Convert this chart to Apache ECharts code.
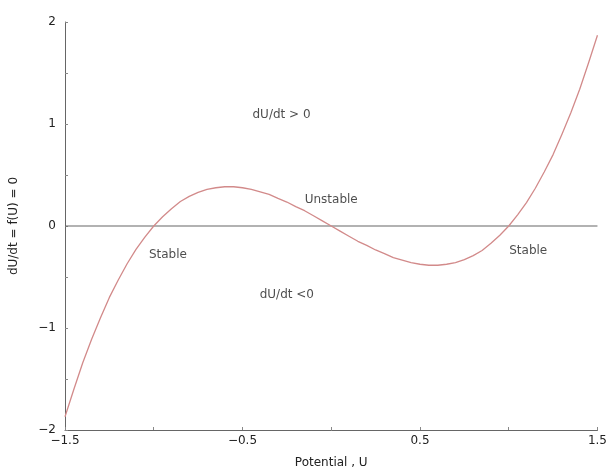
<!DOCTYPE html>
<html><head><meta charset="utf-8">
<script src="https://cdn.jsdelivr.net/npm/echarts@6/dist/echarts.min.js"></script>
<style>html,body{margin:0;padding:0;background:#fff}#c{width:610px;height:474px}</style>
</head><body><div id="c"></div>
<script>
const potentialU = [-1.50,-1.45,-1.40,-1.35,-1.30,-1.25,-1.20,-1.15,-1.10,-1.05,-1.00,-0.95,-0.90,-0.85,-0.80,-0.75,-0.70,-0.65,-0.60,-0.55,-0.50,-0.45,-0.40,-0.35,-0.30,-0.25,-0.20,-0.15,-0.10,-0.05,0.00,
  0.05,0.10,0.15,0.20,0.25,0.30,0.35,0.40,0.45,0.50,0.55,0.60,0.65,0.70,0.75,0.80,0.85,0.90,0.95,1.00,1.05,1.10,1.15,1.20,1.25,1.30,1.35,1.40,1.45,1.50];
const dUdt = [-1.87,-1.60,-1.34,-1.11,-0.90,-0.70,-0.53,-0.37,-0.23,-0.11,0.00,0.09,0.17,0.24,0.29,0.33,0.36,0.375,0.385,0.385,0.375,0.36,0.335,0.31,0.27,0.235,0.19,0.15,0.10,0.05,0.00,
  -0.05,-0.10,-0.15,-0.19,-0.235,-0.27,-0.31,-0.335,-0.36,-0.375,-0.385,-0.385,-0.375,-0.36,-0.33,-0.29,-0.24,-0.17,-0.09,0.00,0.11,0.23,0.37,0.53,0.70,0.90,1.11,1.34,1.60,1.87];
const zeroLineU = [-1.5, 1.5];
const zeroLineV = [0, 0];
const xTickLabels = [-1.5, -0.5, 0.5, 1.5];
const yTickLabels = [-2, -1, 0, 1, 2];
const noteText = ['dU/dt > 0', 'Unstable', 'Stable', 'dU/dt <0', 'Stable'];
const noteU = [-0.28, 0.0, -0.92, -0.25, 1.11];
const noteV = [1.09, 0.26, -0.28, -0.68, -0.24];

const font = 'DejaVu Sans, Liberation Sans, sans-serif';
const fs = 12;
const chart = echarts.init(document.getElementById('c'));
chart.setOption({
  animation: false,
  backgroundColor: '#fff',
  grid: {left: 64, right: 9, top: 22, bottom: 42},
  xAxis: {
    type: 'value', min: -1.5, max: 1.5, interval: 0.5,
    name: 'Potential , U', nameLocation: 'middle', nameGap: 27,
    nameTextStyle: {fontFamily: font, fontSize: fs, color: '#222'},
    axisLine: {onZero: false, lineStyle: {color: '#666', width: 1}},
    axisTick: {inside: true, length: 3, lineStyle: {color: '#888'}},
    splitLine: {show: false},
    axisLabel: {fontFamily: font, fontSize: fs, color: '#222', margin: 5,
      formatter: v => xTickLabels.some(t => Math.abs(t - v) < 1e-9) ? (v < 0 ? '\u2212' + Math.abs(v) : String(v)) : ''}
  },
  yAxis: {
    type: 'value', min: -2, max: 2, interval: 0.5,
    name: 'dU/dt = f(U) = 0', nameLocation: 'middle', nameGap: 45, nameRotate: 90,
    nameTextStyle: {fontFamily: font, fontSize: fs, color: '#222'},
    axisLine: {show: true, onZero: false, lineStyle: {color: '#666', width: 1}},
    axisTick: {show: true, inside: true, length: 3, lineStyle: {color: '#888'}},
    splitLine: {show: false},
    axisLabel: {fontFamily: font, fontSize: fs, color: '#222', margin: 9,
      formatter: v => yTickLabels.some(t => Math.abs(t - v) < 1e-9) ? (v < 0 ? '\u2212' + Math.abs(v) : String(v)) : ''}
  },
  series: [
    {type: 'line', data: zeroLineU.map((u, i) => [u, zeroLineV[i]]), symbol: 'none',
     lineStyle: {color: '#666', width: 1.2}, z: 1},
    {type: 'line', data: potentialU.map((u, i) => [u, dUdt[i]]), symbol: 'none', smooth: false,
     lineStyle: {color: '#d28a8a', width: 1.3, join: 'round'}, z: 2},
    {type: 'scatter', symbolSize: 0,
     data: noteText.map((t, i) => ({name: t, value: [noteU[i], noteV[i]]})),
     label: {show: true, position: 'inside', formatter: p => p.name,
       fontFamily: font, fontSize: fs, color: '#222'}, z: 3}
  ]
});
</script></body></html>
